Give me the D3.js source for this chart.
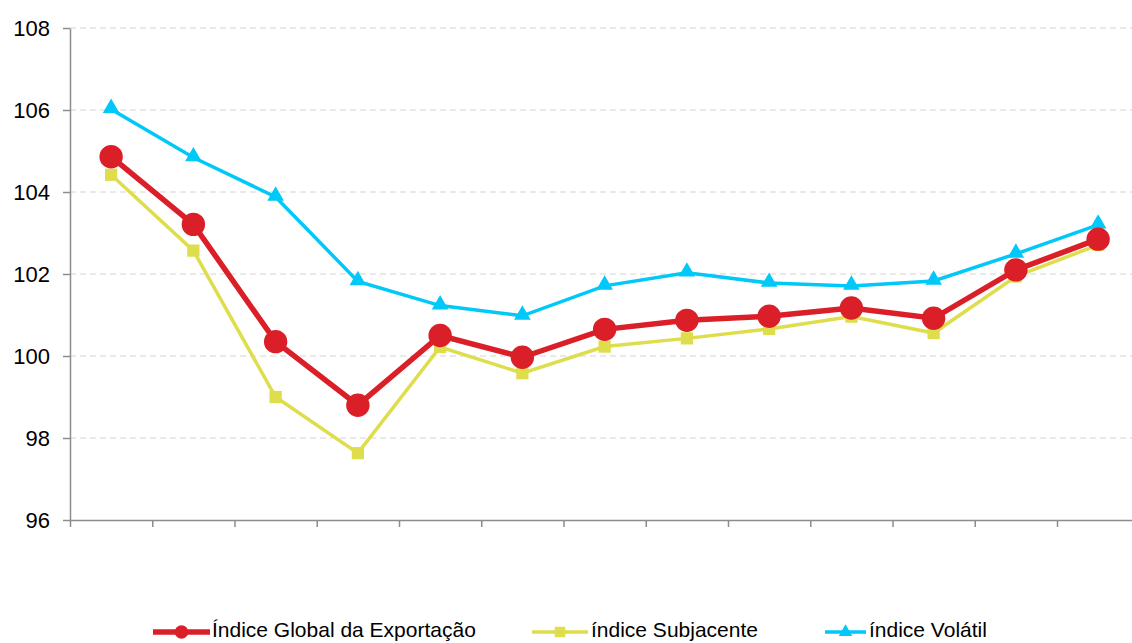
<!DOCTYPE html>
<html>
<head>
<meta charset="utf-8">
<script src="https://cdn.jsdelivr.net/npm/d3@7"></script>
<style>
  html, body { margin: 0; padding: 0; background: #fff; }
  svg text { font-family: "Liberation Sans", Arial, sans-serif; }
</style>
</head>
<body>
<div id="chart"></div>
<script>
// categories (no labels shown on the axis)
const categories = ["p1", "p2", "p3", "p4", "p5", "p6", "p7", "p8", "p9", "p10", "p11", "p12", "p13"];

const globalValues = [104.86, 103.21, 100.35, 98.8, 100.5, 99.97, 100.65, 100.87, 100.97, 101.17, 100.92, 102.1, 102.85];
const subjacenteValues = [104.42, 102.57, 99.0, 97.63, 100.22, 99.58, 100.23, 100.43, 100.66, 100.96, 100.56, 101.94, 102.71];
const volatilValues = [106.02, 104.84, 103.88, 101.82, 101.23, 100.98, 101.71, 102.03, 101.78, 101.71, 101.83, 102.49, 103.2];

const yTicks = [96, 98, 100, 102, 104, 106, 108];

const seriesNames = ["Índice Global da Exportação", "índice Subjacente", "índice Volátil"];

const W = 1132, H = 643;
const margin = { top: 28, left: 70 };
const plotW = 13 * 82.25;
const plotH = 492;

const svg = d3.select("#chart").append("svg")
    .attr("width", W)
    .attr("height", H);

const g = svg.append("g")
    .attr("transform", `translate(${margin.left},${margin.top})`);

const x = d3.scaleBand()
    .domain(categories)
    .range([0, plotW])
    .padding(0);

// band boundaries, for the x tick marks
const xEdge = d3.scaleLinear()
    .domain([0, categories.length])
    .range([0, plotW]);

const y = d3.scaleLinear()
    .domain([96, 108])
    .range([plotH, 0]);

const axisColor = "#8c8c8c";

// Grid lines
g.append("g")
    .selectAll("line")
    .data(yTicks.filter(d => d > 96))
    .join("line")
    .attr("x1", 0)
    .attr("x2", plotW)
    .attr("y1", d => y(d))
    .attr("y2", d => y(d))
    .attr("stroke", "#d4d4d4")
    .attr("stroke-width", 1)
    .attr("stroke-dasharray", "6,4");

// Y axis
const yAxis = g.append("g")
    .call(d3.axisLeft(y).tickValues(yTicks).tickSize(7).tickPadding(13).tickSizeOuter(0));
yAxis.selectAll("line, path").attr("stroke", axisColor).attr("stroke-width", 1.5);
yAxis.selectAll("text")
    .attr("fill", "#000")
    .style("font-size", "22px");

// X axis (tick marks at band edges, no labels)
const xAxis = g.append("g")
    .attr("transform", `translate(0,${plotH})`)
    .call(d3.axisBottom(xEdge)
        .tickValues(d3.range(categories.length + 1))
        .tickSize(7)
        .tickSizeOuter(0)
        .tickFormat(""));
xAxis.selectAll("line, path").attr("stroke", axisColor).attr("stroke-width", 1.5);

const cx = d => x(d) + x.bandwidth() / 2;

const series = [
    { name: seriesNames[0], values: globalValues, color: "#db1f28", width: 5.5, symbol: d3.symbolCircle, size: 430 },
    { name: seriesNames[1], values: subjacenteValues, color: "#dedd4c", width: 3.5, symbol: d3.symbolSquare, size: 150 },
    { name: seriesNames[2], values: volatilValues, color: "#00c8f8", width: 3.5, symbol: d3.symbolTriangle, size: 120 }
];

const line = d3.line()
    .x((d, i) => cx(categories[i]))
    .y(d => y(d));

// draw from back to front: volatil, subjacente, global on top
const order = [2, 1, 0];
order.forEach(k => {
    const s = series[k];
    g.append("path")
        .datum(s.values)
        .attr("fill", "none")
        .attr("stroke", s.color)
        .attr("stroke-width", s.width)
        .attr("stroke-linejoin", "miter")
        .attr("d", line);
});
order.forEach(k => {
    const s = series[k];
    g.append("g")
        .selectAll("path")
        .data(s.values)
        .join("path")
        .attr("transform", (d, i) => `translate(${cx(categories[i])},${y(d) + (s.symbol === d3.symbolTriangle ? -1 : 0)})`)
        .attr("d", d3.symbol().type(s.symbol).size(s.size))
        .attr("fill", s.color);
});

// Legend
const legendItems = [
    { s: series[0], x0: 153, x1: 210, tx: 212, msize: 140 },
    { s: series[1], x0: 532, x1: 588, tx: 591, msize: 110 },
    { s: series[2], x0: 825, x1: 866, tx: 869, msize: 80 }
];
const legend = svg.append("g").attr("transform", "translate(0,632)");
legendItems.forEach(item => {
    legend.append("line")
        .attr("x1", item.x0)
        .attr("x2", item.x1)
        .attr("y1", 0)
        .attr("y2", 0)
        .attr("stroke", item.s.color)
        .attr("stroke-width", item.s.width);
    legend.append("path")
        .attr("transform", `translate(${(item.x0 + item.x1) / 2},0)`)
        .attr("d", d3.symbol().type(item.s.symbol).size(item.msize))
        .attr("fill", item.s.color);
    legend.append("text")
        .attr("x", item.tx)
        .attr("y", 5)
        .attr("fill", "#000")
        .style("font-size", "21px")
        .text(item.s.name);
});
</script>
</body>
</html>
